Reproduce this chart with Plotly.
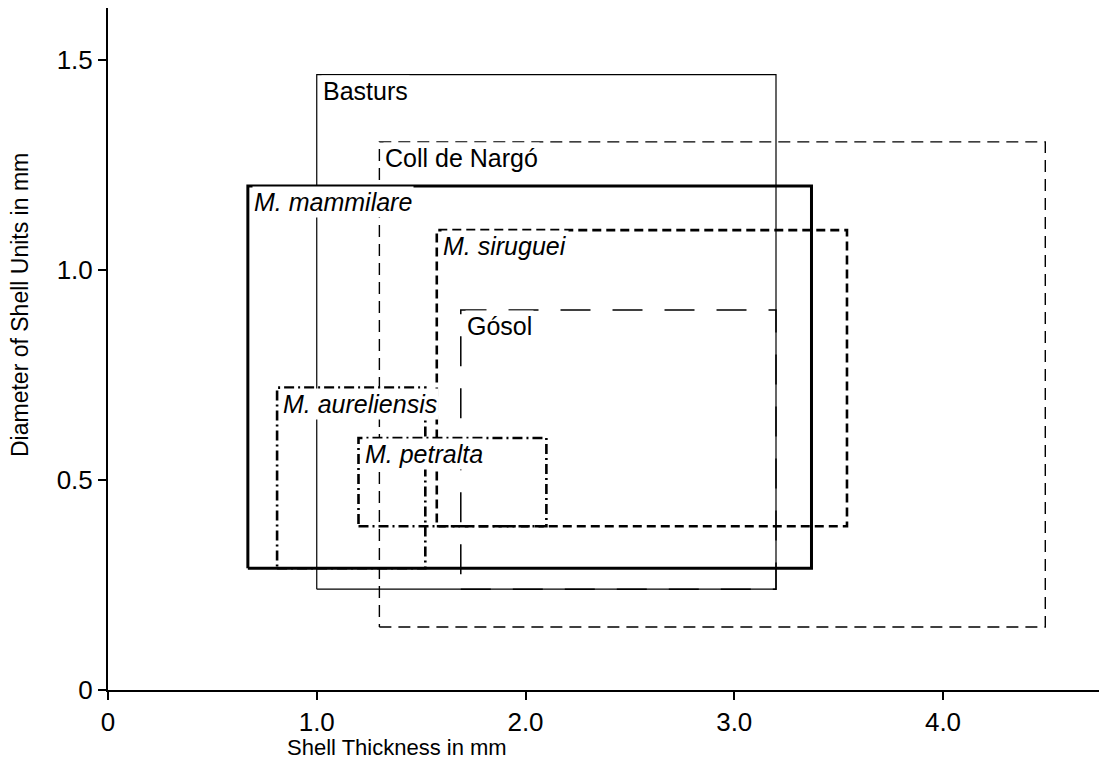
import plotly.graph_objects as go

# Ranges of shell thickness (x) and shell-unit diameter (y) per locality / oospecies
names = ["Basturs", "Coll de Nargó", "M. mammilare", "M. siruguei",
         "Gósol", "M. aureliensis", "M. petralta"]
italic = [False, False, True, True, False, True, True]
thick_min = [1.00, 1.30, 0.67, 1.575, 1.69, 0.81, 1.20]
thick_max = [3.20, 4.49, 3.37, 3.54, 3.20, 1.52, 2.10]
diam_min = [0.24, 0.15, 0.29, 0.39, 0.24, 0.29, 0.39]
diam_max = [1.465, 1.305, 1.20, 1.095, 0.905, 0.72, 0.60]

x_ticks = [0, 1.0, 2.0, 3.0, 4.0]
x_tick_text = ["0", "1.0", "2.0", "3.0", "4.0"]
y_ticks = [0, 0.5, 1.0, 1.5]
y_tick_text = ["0", "0.5", "1.0", "1.5"]

# outline style for each rectangle: (width, dash)
styles = [
    (1.2, "solid"),
    (1.4, "12px,7px"),
    (3.0, "solid"),
    (2.6, "9px,5px"),
    (1.5, "30px,22px"),
    (2.6, "10px,4px,2px,4px"),
    (2.6, "10px,4px,2px,4px"),
]

FONT = "Liberation Sans, Arial, Helvetica, sans-serif"

# plot-area geometry in pixels
W, H = 1099, 762
ML, MR, MT, MB = 108, 0, 8, 72
PW, PH = W - ML - MR, H - MT - MB

fig = go.Figure()
for i, name in enumerate(names):
    x0, x1, y0, y1 = thick_min[i], thick_max[i], diam_min[i], diam_max[i]
    w, dash = styles[i]
    fig.add_trace(go.Scatter(
        x=[x0, x1, x1, x0, x0],
        y=[y0, y0, y1, y1, y0],
        mode="lines",
        line=dict(color="black", width=w, dash=dash),
        hoverinfo="skip",
        showlegend=False,
    ))
    label = f"<i>{name}</i>" if italic[i] else name
    fig.add_annotation(
        x=x0, y=y1, xref="x", yref="y",
        text=label, showarrow=False,
        xanchor="left", yanchor="top",
        xshift=4, yshift=0,
        bgcolor="white", borderpad=1,
        font=dict(family=FONT, size=25, color="black"),
    )

# axis titles, placed by pixel position
fig.add_annotation(
    x=(397 - ML) / PW, y=-(747 - (H - MB)) / PH, xref="paper", yref="paper",
    text="Shell Thickness in mm", showarrow=False,
    xanchor="center", yanchor="middle",
    font=dict(family=FONT, size=22, color="black"),
)
fig.add_annotation(
    x=-(ML - 20) / PW, y=((H - MB) - 305) / PH, xref="paper", yref="paper",
    text="Diameter of Shell Units in mm", showarrow=False, textangle=-90,
    xanchor="center", yanchor="middle",
    font=dict(family=FONT, size=23, color="black"),
)

fig.update_layout(
    width=W, height=H,
    margin=dict(l=ML, r=MR, t=MT, b=MB),
    plot_bgcolor="white", paper_bgcolor="white",
    font=dict(family=FONT, color="black"),
)

fig.update_xaxes(
    range=[0, PW / 208.75], tickvals=x_ticks, ticktext=x_tick_text,
    showline=True, linecolor="black", linewidth=2,
    ticks="outside", ticklen=8, tickwidth=2, tickcolor="black",
    showgrid=False, zeroline=False,
    tickfont=dict(family=FONT, size=26, color="black"),
)
fig.update_yaxes(
    range=[0, PH / 420], tickvals=y_ticks, ticktext=y_tick_text,
    showline=True, linecolor="black", linewidth=2,
    ticks="outside", ticklen=8, tickwidth=2, tickcolor="black",
    showgrid=False, zeroline=False,
    tickfont=dict(family=FONT, size=26, color="black"),
)

fig.write_html("out.html")
